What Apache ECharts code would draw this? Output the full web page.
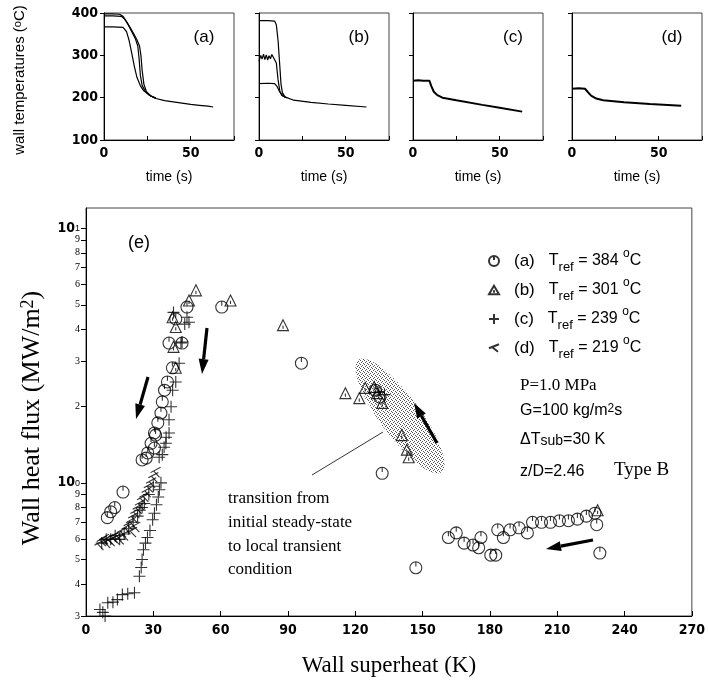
<!DOCTYPE html>
<html>
<head>
<meta charset="utf-8">
<script src="https://cdn.jsdelivr.net/npm/echarts@6/dist/echarts.min.js"></script>
<style>html,body{margin:0;background:#fff}#main{width:708px;height:683px}</style>
</head>
<body>
<div id="main"></div>
<script>
// wall temperature traces, [time s, temperature degC]
const tempA1 = [[0,398],[5,398],[9,397],[11,392],[13,380],[15,366],[17,352],[19,337],[20.5,322],[21.3,300],[22,265],[23,232],[24.5,214],[27,204],[30,198],[35,193],[40,190],[45,187],[50,184],[55,182],[60,180],[63,178]];
const tempA2 = [[0,393],[5,393],[10,392],[12,385],[14,372],[16,356],[18,340],[19.5,322],[20.3,290],[21,252],[22,229],[24,214],[27,204],[30,198]];
const tempA3 = [[0,367],[5,367],[11,366],[13,356],[14.5,335],[16,305],[17.5,274],[19,248],[21,228],[23,216],[26,206],[30,199]];
const tempB1 = [[0,382],[5,382],[9,381],[10,372],[11,335],[12,275],[12.7,232],[13.5,212],[15,202],[20,194],[30,189],[40,185],[50,182],[62,178]];
const tempB2 = [[0,286],[1,300],[1.8,291],[2.6,303],[3.4,290],[4.2,301],[5,289],[5.8,299],[6.6,292],[7.4,302],[8.2,296],[9,297],[10,282],[11,242],[12,216],[13,206],[15,201]];
const tempB3 = [[0,233],[5,234],[9,233],[10.5,226],[12,213],[14,204],[16,199]];
const tempC = [[0,240],[3,241],[6,240],[9.5,240],[10.5,228],[12,214],[14,206],[17,200],[25,194],[40,183],[50,176],[63,167]];
const tempD = [[0,221],[4,222],[7.5,221],[9,214],[11,205],[14,198],[18,194],[30,189],[45,185],[63,181]];

// heat flux data, [wall superheat K, heat flux MW/m2]
const fluxA = [[9.5,0.73],[11,0.77],[12.8,0.8],[16.5,0.92],
  [25,1.23],[26.8,1.25],[27.5,1.31],[29,1.43],[30.5,1.37],[30.5,1.57],[31,1.54],[32,1.72],[33.4,1.88],[34,2.08],[35,2.31],[36.3,2.49],[38.5,2.83],[37,3.54],[42.8,3.54],[40,4.4],[45,4.9],[60.5,4.9],[96,2.95],
  [129,2.31],[131,2.17],[132,1.09],[147,0.464],
  [161.5,0.61],[165,0.636],[168.5,0.58],[172.5,0.57],[175,0.556],[176,0.61],[180.4,0.52],[182.6,0.52],[183.5,0.654],[186,0.61],[189,0.654],[193,0.666],[196.7,0.636],[199,0.7],[203,0.7],[207,0.7],[211,0.71],[215,0.71],[219,0.72],[223,0.74],[226.8,0.76],[227.6,0.685],[229,0.53]];
const fluxB = [[40,2.83],[39,3.42],[40,4.09],[38.6,4.47],[45.9,5.2],[49,5.7],[64.4,5.2],[87.8,4.16],
  [115.6,2.25],[121.8,2.15],[124.4,2.36],[128.4,2.38],[129.7,2.25],[132,2.06],[140.7,1.54],[143,1.35],[143.8,1.26],[228,0.78]];
const fluxC = [[6.2,0.318],[7.5,0.31],[8.5,0.3],[9.7,0.338],[12,0.34],[14,0.348],[16.2,0.364],[18.6,0.367],[21.6,0.37],
  [23.8,0.43],[24.6,0.465],[25,0.5],[25.6,0.546],[26.5,0.58],[27.4,0.61],[28.5,0.65],[29.7,0.716],[30.5,0.76],[31.4,0.82],[32.2,0.88],[32.7,0.94],[33.4,1.0],
  [34,1.29],[34.8,1.38],[35.6,1.43],[35.7,1.51],[37,1.57],[37,1.77],[37.9,1.99],[38.6,2.31],[40,2.49],[41.5,2.95],[42.3,3.54],[42.8,3.57],[39,4.67],[45,4.47],[45.9,4.27],[44,4.2],
  [7,0.58],[9,0.6],[11,0.6],[13,0.62],[15,0.6],[17,0.63],[19,0.66],[21,0.7],[23,0.74],[24,0.78],[25,0.8],[26,0.83],[28,0.9],[30,0.97],[32.6,1.26],
  [130.5,2.27],[133,2.22]];
const fluxD = [[6,0.57],[7,0.59],[8,0.6],[9,0.58],[10,0.6],[11,0.59],[12,0.61],[13,0.6],[14,0.62],[15,0.6],[16,0.64],[17,0.62],[18,0.66],[19,0.68],[20,0.7],[20.5,0.64],[21,0.73],[22,0.67],[22,0.76],[23,0.79],[24,0.82],[25,0.86],[26,0.88],[27,0.92],[28,0.96],[29,1.0],[30,1.05],[31,1.1]];

const fluxTicks = [0.3,0.4,0.5,0.6,0.7,0.8,0.9,1,2,3,4,5,6,7,8,9,10];
const tempTicks = [100,200,300,400];
const timeLabels = [0,50];
const superheatTicks = [0,30,60,90,120,150,180,210,240,270];
const trefs = {a: 384, b: 301, c: 239, d: 219};

const narrow = "'Liberation Sans Narrow','DejaVu Sans Condensed',sans-serif";
const sans = "'Liberation Sans',Arial,sans-serif";
const serif = "'Liberation Serif','DejaVu Serif',serif";

const panelLines = [[tempA1, tempA2, tempA3], [tempB1, tempB2, tempB3], [tempC], [tempD]];
const panelLeft = [104, 259, 413, 572];
const panelTag = ['(a)', '(b)', '(c)', '(d)'];

const grids = [], xAxes = [], yAxes = [], series = [];
panelLeft.forEach((left, i) => {
    grids.push({left: left, width: 130, top: 13, height: 127, show: true, borderColor: '#444', borderWidth: 1});
    xAxes.push({
        gridIndex: i, type: 'value', min: 0, max: 75, interval: 25,
        name: 'time (s)', nameLocation: 'middle', nameGap: 30,
        nameTextStyle: {fontFamily: sans, fontSize: 14, color: '#000'},
        axisLine: {onZero: false, lineStyle: {color: '#000'}},
        axisTick: {inside: true, length: 4, lineStyle: {color: '#000'}},
        axisLabel: {fontFamily: narrow, fontWeight: 'bold', fontSize: 14, color: '#000', margin: 6,
            formatter: v => timeLabels.indexOf(v) >= 0 ? String(v) : ''},
        splitLine: {show: false}
    });
    yAxes.push({
        gridIndex: i, type: 'value', min: 100, max: 400, interval: 100,
        axisLine: {onZero: false, lineStyle: {color: '#000'}},
        axisTick: {length: 4, lineStyle: {color: '#000'}},
        axisLabel: {show: i === 0, fontFamily: narrow, fontWeight: 'bold', fontSize: 14, color: '#000', margin: 6,
            formatter: v => tempTicks.indexOf(v) >= 0 ? String(v) : ''},
        splitLine: {show: false}
    });
    panelLines[i].forEach(d => {
        series.push({
            type: 'line', xAxisIndex: i, yAxisIndex: i, data: d, showSymbol: false, silent: true,
            lineStyle: {color: '#000', width: i < 2 ? 1.2 : 2}
        });
    });
});

// bottom log plot (values plotted as log10 on a value axis so every decade tick can be drawn)
grids.push({left: 86, right: 7, top: 208, bottom: 67, show: true, borderColor: '#444', borderWidth: 1});
xAxes.push({
    gridIndex: 4, type: 'value', min: 0, max: 270, interval: 30,
    name: 'Wall superheat (K)', nameLocation: 'middle', nameGap: 38,
    nameTextStyle: {fontFamily: serif, fontSize: 23, color: '#000'},
    axisLine: {onZero: false, lineStyle: {color: '#000'}},
    axisTick: {inside: true, length: 5, lineStyle: {color: '#000'}},
    axisLabel: {fontFamily: narrow, fontWeight: 'bold', fontSize: 14, color: '#000', margin: 7,
        formatter: v => superheatTicks.indexOf(v) >= 0 ? String(v) : ''},
    splitLine: {show: false}
});
const logTicks = fluxTicks.map(v => Math.log10(v));
const fluxLabel = v => {
    const r = Math.pow(10, v);
    if (Math.abs(r - 1) < 1e-6) return '{p|10}{e|0}';
    if (Math.abs(r - 10) < 1e-6) return '{p|10}{e|1}';
    return r < 1 ? String(Math.round(r * 10)) : String(Math.round(r));
};
const fluxRich = {
    p: {fontFamily: narrow, fontWeight: 'bold', fontSize: 14, lineHeight: 8, color: '#000'},
    e: {fontFamily: sans, fontSize: 9, verticalAlign: 'top', color: '#000'}
};
yAxes.push({
    gridIndex: 4, type: 'value', min: Math.log10(0.3), max: Math.log10(12),
    axisLine: {onZero: false, lineStyle: {color: '#000'}},
    axisTick: {length: 5, customValues: logTicks, lineStyle: {color: '#000'}},
    axisLabel: {
        customValues: logTicks.slice(0, -1), margin: 6, color: '#000', fontFamily: serif, fontSize: 10, lineHeight: 8,
        hideOverlap: false, showMinLabel: true, showMaxLabel: true,
        formatter: fluxLabel, rich: fluxRich
    },
    splitLine: {show: false}
});
// companion axis on the same scale carrying only the top decade label
yAxes.push({
    gridIndex: 4, type: 'value', position: 'left', min: Math.log10(0.3), max: Math.log10(12),
    axisLine: {show: false}, axisTick: {show: false}, splitLine: {show: false},
    axisLabel: {customValues: logTicks.slice(-1), margin: 6, color: '#000', formatter: fluxLabel, rich: fluxRich}
});

const symbols = {
    a: 'path://M0,10A10,10 0 1,0 20,10A10,10 0 1,0 0,10Z M10,0L10,8',
    b: 'path://M10,0L20,17L0,17Z M10,9L10,14',
    c: 'path://M10,0L10,20 M0,10L20,10',
    d: 'path://M20,3L0,11 M6,8.5L18,18'
};
const sizes = {a: 12, b: 11, c: 12, d: 10};
const fluxSets = {a: fluxA, b: fluxB, c: fluxC, d: fluxD};
Object.keys(fluxSets).forEach(k => {
    series.push({
        name: k, type: 'scatter', xAxisIndex: 4, yAxisIndex: 4, z: 3,
        symbol: symbols[k], symbolSize: sizes[k],
        itemStyle: {color: 'rgba(0,0,0,0)', borderColor: '#000', borderWidth: 1.1},
        data: fluxSets[k].map(p => [p[0], Math.log10(p[1])])
    });
});

// stipple pattern for the shaded transition region
const dots = document.createElement('canvas');
dots.width = 4; dots.height = 4;
const dctx = dots.getContext('2d');
dctx.fillStyle = '#555';
[[0,0],[2,1],[1,2],[3,3]].forEach(p => dctx.fillRect(p[0], p[1], 1, 1));

function ellipsePoints(cx, cy, a, b, ang) {
    const pts = [];
    for (let k = 0; k < 48; k++) {
        const t = k / 48 * Math.PI * 2;
        pts.push([cx + a * Math.cos(t) * Math.cos(ang) - b * Math.sin(t) * Math.sin(ang),
                  cy + a * Math.cos(t) * Math.sin(ang) + b * Math.sin(t) * Math.cos(ang)]);
    }
    return pts;
}

function arrow(x1, y1, x2, y2) {
    const ang = Math.atan2(y2 - y1, x2 - x1);
    const hl = 15, hw = 5;
    const bx = x2 - hl * Math.cos(ang), by = y2 - hl * Math.sin(ang);
    return [
        {type: 'line', z: 10, shape: {x1: x1, y1: y1, x2: bx, y2: by}, style: {stroke: '#000', lineWidth: 3.2}},
        {type: 'polygon', z: 10, shape: {points: [[x2, y2], [bx + hw * Math.sin(ang), by - hw * Math.cos(ang)], [bx - hw * Math.sin(ang), by + hw * Math.cos(ang)]]}, style: {fill: '#000'}}
    ];
}

const graphics = [
    {type: 'polygon', z: 1, shape: {points: ellipsePoints(400, 416, 70, 20, 53.5 * Math.PI / 180)}, style: {fill: {image: dots, repeat: 'repeat'}}},
    {type: 'line', z: 10, shape: {x1: 312, y1: 475, x2: 383, y2: 432}, style: {stroke: '#000', lineWidth: 0.8}},
    {type: 'text', rotation: Math.PI / 2, x: 20, y: 80, style: {text: 'wall temperatures ({u|o}C)', fontFamily: sans, fontSize: 15, fill: '#000', align: 'center', verticalAlign: 'middle',
        rich: {u: {fontSize: 11, verticalAlign: 'top', fontFamily: sans, fill: '#000'}}}},
    {type: 'text', rotation: Math.PI / 2, x: 32, y: 418, style: {text: 'Wall heat flux (MW/m{u|2})', fontFamily: serif, fontSize: 26, fill: '#000', align: 'center', verticalAlign: 'middle',
        rich: {u: {fontSize: 18, verticalAlign: 'top', fontFamily: serif, fill: '#000'}}}},
    {type: 'text', x: 128, y: 243, style: {text: '(e)', fontFamily: sans, fontSize: 18, fill: '#000', verticalAlign: 'middle'}},
    {type: 'text', x: 228, y: 499, style: {text: 'transition from', fontFamily: serif, fontSize: 17, fill: '#000', verticalAlign: 'middle'}},
    {type: 'text', x: 228, y: 523, style: {text: 'initial steady-state', fontFamily: serif, fontSize: 17, fill: '#000', verticalAlign: 'middle'}},
    {type: 'text', x: 228, y: 547, style: {text: 'to local transient', fontFamily: serif, fontSize: 17, fill: '#000', verticalAlign: 'middle'}},
    {type: 'text', x: 228, y: 570, style: {text: 'condition', fontFamily: serif, fontSize: 17, fill: '#000', verticalAlign: 'middle'}},
    {type: 'text', x: 520, y: 386, style: {text: 'P=1.0 MPa', fontFamily: serif, fontSize: 17, fill: '#000', verticalAlign: 'middle'}},
    {type: 'text', x: 520, y: 411, style: {text: 'G=100 kg/m{u|2}s', fontFamily: sans, fontSize: 16, fill: '#000', verticalAlign: 'middle',
        rich: {u: {fontSize: 12, verticalAlign: 'top', fontFamily: sans, fill: '#000'}}}},
    {type: 'text', x: 520, y: 440, style: {text: '\u0394T{s|sub}=30 K', fontFamily: sans, fontSize: 16, fill: '#000', verticalAlign: 'middle',
        rich: {s: {fontSize: 14, verticalAlign: 'bottom', fontFamily: sans, fill: '#000'}}}},
    {type: 'text', x: 520, y: 472, style: {text: 'z/D=2.46', fontFamily: sans, fontSize: 16, fill: '#000', verticalAlign: 'middle'}},
    {type: 'text', x: 614, y: 470, style: {text: 'Type B', fontFamily: serif, fontSize: 19, fill: '#000', verticalAlign: 'middle'}}
];
panelLeft.forEach((left, i) => {
    graphics.push({type: 'text', x: left + 100, y: 37, style: {text: panelTag[i], fontFamily: sans, fontSize: 17, fill: '#000', align: 'center', verticalAlign: 'middle'}});
});
[[148, 377, 136, 419], [207, 328, 202, 374], [437, 443, 414, 403], [593, 540, 546, 549]].forEach(a => {
    arrow(a[0], a[1], a[2], a[3]).forEach(g => graphics.push(g));
});

const chart = echarts.init(document.getElementById('main'));
chart.setOption({
    animation: false,
    backgroundColor: '#fff',
    grid: grids,
    xAxis: xAxes,
    yAxis: yAxes,
    legend: {
        data: ['a', 'b', 'c', 'd'], orient: 'vertical', left: 483, top: 243,
        itemWidth: 10, itemHeight: 10, itemGap: 3, selectedMode: false,
        formatter: n => '{l|(' + n + ')}{t|T}{s|ref}{t| = ' + trefs[n] + ' }{u|o}{t|C}',
        textStyle: {
            color: '#000',
            rich: {
                l: {fontFamily: sans, fontSize: 17, lineHeight: 26, padding: [0, 14, 0, 10], color: '#000'},
                t: {fontFamily: sans, fontSize: 16, lineHeight: 26, color: '#000'},
                s: {fontFamily: sans, fontSize: 13, verticalAlign: 'bottom', color: '#000'},
                u: {fontFamily: sans, fontSize: 12, verticalAlign: 'top', color: '#000'}
            }
        }
    },
    graphic: graphics,
    series: series
});
</script>
</body>
</html>
